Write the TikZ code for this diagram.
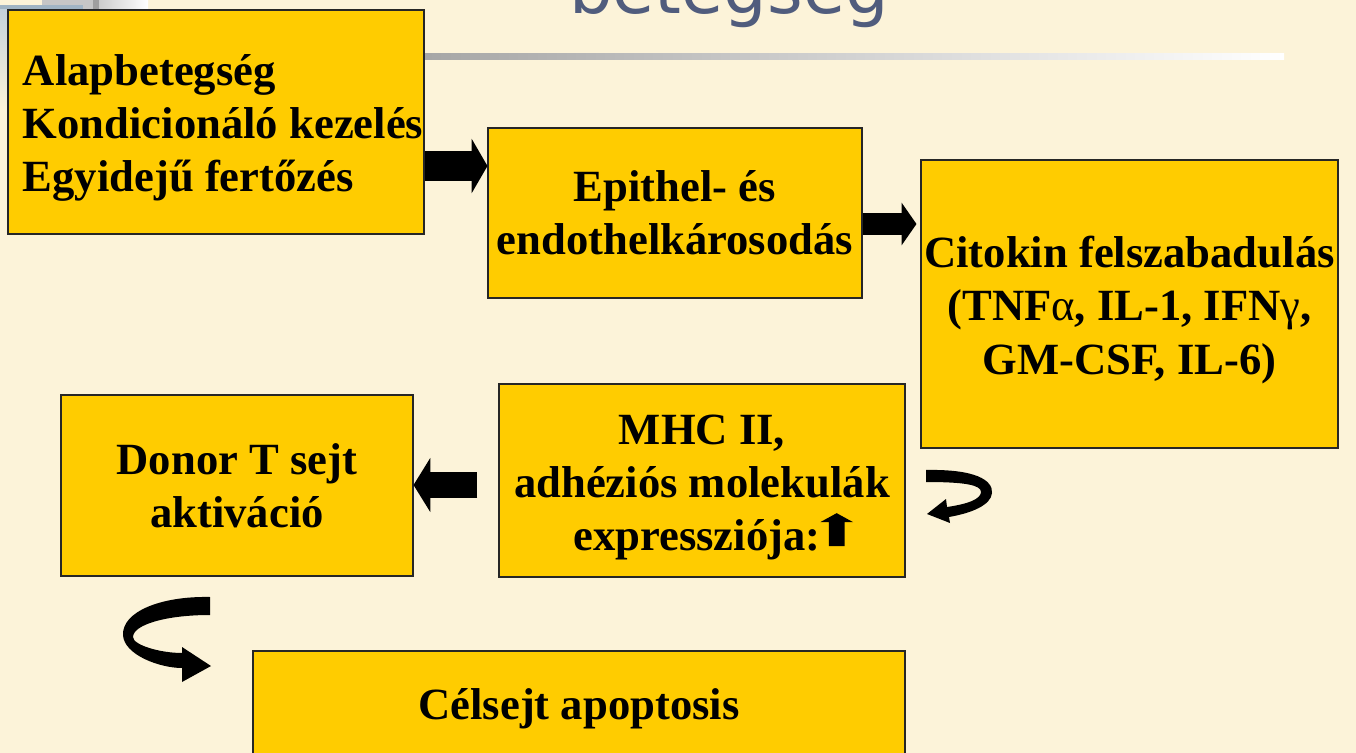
\documentclass[tikz,border=0pt]{standalone}
\usepackage{fontspec}
\setmainfont{Liberation Serif}
\newfontfamily\titlefont{DejaVu Sans}
\usepackage{tikz}
\usetikzlibrary{arrows.meta, calc}
\usepackage{xcolor}
\definecolor{slidebg}{RGB}{252,243,217}
\definecolor{boxyellow}{RGB}{255,204,0}
\definecolor{titleblue}{RGB}{80,92,125}
\definecolor{cornerblue}{RGB}{160,180,196}
\newdimen\px \px=0.02cm

% kleiner Pfeil nach oben im Text
\newcommand{\upblock}{\tikz[baseline=0pt]\fill (-4.5pt,2.8pt) -- (4.5pt,2.8pt) -- (4.5pt,16.4pt) -- (9.3pt,16.4pt) -- (0pt,21.5pt) -- (-9.3pt,16.4pt) -- (-4.5pt,16.4pt) -- cycle;}

\tikzset{
   box/.style={draw=black!85, line width=0.6pt, fill=boxyellow, inner sep=0pt},
   boxtext/.style={font=\bfseries\fontsize{25.4pt}{30.4pt}\selectfont, align=center, inner sep=0pt},
   blockarrow/.style n args={3}{line width=#1, -{Triangle[length=#2, width=#3, line width=0pt]}}
}

\begin{document}
\begin{tikzpicture}[x=0.02cm, y=-0.02cm]

         %%%%%%%%%%%%%%%%%%%%%%%%%%%%%%%%%%%%%%%%%%%%%%%%%%%%%%%%%%%%%%%%%%%%%%
         % Hintergrund
         %%%%%%%%%%%%%%%%%%%%%%%%%%%%%%%%%%%%%%%%%%%%%%%%%%%%%%%%%%%%%%%%%%%%%%
         \clip (0,0) rectangle (1356,753);
         \fill[slidebg] (0,0) rectangle (1356,753);

         % Ecke oben links
         \fill[gray!45] (42,0) rectangle (93,10);
         \fill[cornerblue] (0,5) rectangle (83,10);
         \fill[gray!75] (93,0) rectangle (99,10);
         \shade[left color=gray!40, right color=white] (99,0) rectangle (148,10);
         \shade[top color=cornerblue!60, bottom color=slidebg] (0,10) rectangle (7,110);

         % Titel und Linie
         \node[font=\titlefont\fontsize{39pt}{39pt}\selectfont, text=titleblue, anchor=base, inner sep=0pt]
         (title) at (729,14) {betegség};
         \shade[left color=gray!70, right color=white] (424,54) rectangle (1284,60);

         %%%%%%%%%%%%%%%%%%%%%%%%%%%%%%%%%%%%%%%%%%%%%%%%%%%%%%%%%%%%%%%%%%%%%%
         % Kästen
         %%%%%%%%%%%%%%%%%%%%%%%%%%%%%%%%%%%%%%%%%%%%%%%%%%%%%%%%%%%%%%%%%%%%%%
         \node[box, minimum width=416\px, minimum height=224\px] (alap) at (216,122) {};
         \node[box, minimum width=374\px, minimum height=170\px] (epithel) at (675,213) {};
         \node[box, minimum width=417\px, minimum height=288\px] (citokin) at (1129.5,304) {};
         \node[box, minimum width=406\px, minimum height=193\px] (mhc) at (702,480.5) {};
         \node[box, minimum width=352\px, minimum height=181\px] (donor) at (237,485.5) {};
         \node[box, minimum width=652\px, minimum height=110\px] (celsejt) at (579,706) {};

         % Texte
         \node[boxtext, align=left, anchor=west] (alaptxt) at ($(alap.west)+(15,6)$)
         {Alapbetegség\\Kondicionáló kezelés\\Egyidejű fertőzés};
         \node[boxtext] (epitheltxt) at (epithel) {Epithel- és\\endothelkárosodás};
         \node[boxtext] (citokintxt) at ($(citokin)+(0,6)$)
         {Citokin felszabadulás\\(TNF{\mdseries α}, IL-1, IFN{\mdseries γ},\\GM-CSF, IL-6)};
         \node[boxtext] (mhctxt) at ($(mhc)+(0,7)$)
         {MHC II,\\adhéziós molekulák\\\ \ expressziója:\upblock};
         \node[boxtext] (donortxt) at (donor) {Donor T sejt\\aktiváció};
         \node[boxtext] (celsejttxt) at ($(celsejt)+(0,3)$) {Célsejt apoptosis};

         %%%%%%%%%%%%%%%%%%%%%%%%%%%%%%%%%%%%%%%%%%%%%%%%%%%%%%%%%%%%%%%%%%%%%%
         % Blockpfeile
         %%%%%%%%%%%%%%%%%%%%%%%%%%%%%%%%%%%%%%%%%%%%%%%%%%%%%%%%%%%%%%%%%%%%%%
         \draw[blockarrow={17pt}{9pt}{31pt}] (alap.east |- 0,166) -- (epithel.west |- 0,166);
         \draw[blockarrow={13pt}{8.5pt}{24.4pt}] (epithel.east |- 0,224) -- ($(citokin.west |- 0,224)+(-4,0)$);
         \draw[blockarrow={14.7pt}{9.6pt}{31pt}] ($(mhc.west |- 0,485)+(-21,0)$) -- (donor.east |- 0,485);

         %%%%%%%%%%%%%%%%%%%%%%%%%%%%%%%%%%%%%%%%%%%%%%%%%%%%%%%%%%%%%%%%%%%%%%
         % gebogene Pfeile
         %%%%%%%%%%%%%%%%%%%%%%%%%%%%%%%%%%%%%%%%%%%%%%%%%%%%%%%%%%%%%%%%%%%%%%
         % rechts neben MHC
         \fill (926,470) .. controls (975,469) and (993,480) .. (992,493)
         .. controls (991,505) and (972,513) .. (949,517) -- (950,523) -- (927,514)
         -- (946,499) -- (947,507) .. controls (968,504) and (981,499) .. (981,492)
         .. controls (981,485) and (965,482) .. (926,482) -- cycle;

         % unten links
         \fill (210,597) .. controls (160,596) and (122,612) .. (123,635)
         .. controls (124,655) and (160,668) .. (182,668) -- (182,682) -- (211,666)
         -- (182,647) -- (182,653) .. controls (160,653) and (133,645) .. (133,637)
         .. controls (133,625) and (165,615) .. (210,615) -- cycle;

\end{tikzpicture}
\end{document}
